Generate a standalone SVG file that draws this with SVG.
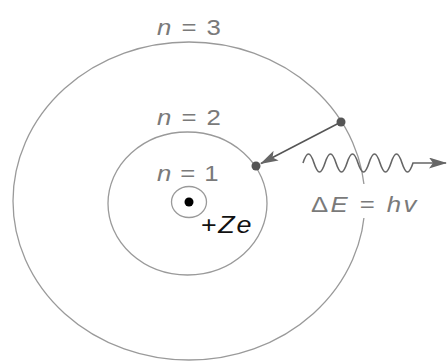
<svg xmlns="http://www.w3.org/2000/svg" width="448" height="362" viewBox="0 0 448 362">
<defs>
<marker id="ah" viewBox="0 0 18 11" refX="17" refY="5.5" markerWidth="18" markerHeight="11" markerUnits="userSpaceOnUse" orient="auto">
<path d="M0,0 L18,5.5 L0,11 L4,5.5 z" fill="#666"/>
</marker>
<style>
.orb{fill:none;stroke:#9a9a9a;stroke-width:1.3}
.lbl{font-family:"Liberation Sans",Arial,sans-serif;font-size:23px;fill:#7a7a7a}
.it{font-style:italic}
.el{fill:#555}
</style>
</defs>
<rect width="448" height="362" fill="#fff"/>
<g id="orbit3"><ellipse class="orb" cx="189" cy="201" rx="176" ry="159"/>
<text class="lbl" transform="translate(157,35) scale(1.12,1)" textLength="57" lengthAdjust="spacing"><tspan class="it">n</tspan> = 3</text></g>
<g id="orbit2"><ellipse class="orb" cx="187.5" cy="203.5" rx="79.5" ry="71.5"/>
<text class="lbl" transform="translate(157,125) scale(1.12,1)" textLength="57" lengthAdjust="spacing"><tspan class="it">n</tspan> = 2</text></g>
<g id="orbit1"><ellipse class="orb" cx="189" cy="202" rx="17.5" ry="15.5"/>
<text class="lbl" transform="translate(157,181) scale(1.12,1)" textLength="55" lengthAdjust="spacing"><tspan class="it">n</tspan> = 1</text></g>
<g id="nucleus"><circle cx="189" cy="202" r="4.5" fill="#000"/>
<text transform="translate(201,233) scale(1.12,1)" font-family="'Liberation Sans',Arial,sans-serif" font-size="24" fill="#111" textLength="45" lengthAdjust="spacing">+<tspan class="it">Ze</tspan></text></g>
<g id="photon-label"><rect x="306" y="184" width="116" height="34" fill="#fff"/>
<text class="lbl" transform="translate(311,212) scale(1.12,1)" textLength="94" lengthAdjust="spacing">Δ<tspan class="it">E</tspan> = <tspan class="it">hv</tspan></text></g>
<g id="connectors">
<line x1="341" y1="122" x2="261" y2="163.5" stroke="#555" stroke-width="1.5" marker-end="url(#ah)"/>
<path d="M303,163 c3.96,-12 7.04,-12 11,0 c3.96,12 7.04,12 11,0 c3.96,-12 7.04,-12 11,0 c3.96,12 7.04,12 11,0 c3.96,-12 7.04,-12 11,0 c3.96,12 7.04,12 11,0 c3.96,-12 7.04,-12 11,0 c3.96,12 7.04,12 11,0 c3.96,-12 7.04,-12 11,0 c3.96,12 7.04,12 11,0 L446,163" fill="none" stroke="#666" stroke-width="1.6" marker-end="url(#ah)"/>
</g>
<g id="electron-n3"><circle class="el" cx="341" cy="122" r="4.5"/></g>
<g id="electron-n2"><circle class="el" cx="256" cy="166" r="4.5"/></g>
</svg>
